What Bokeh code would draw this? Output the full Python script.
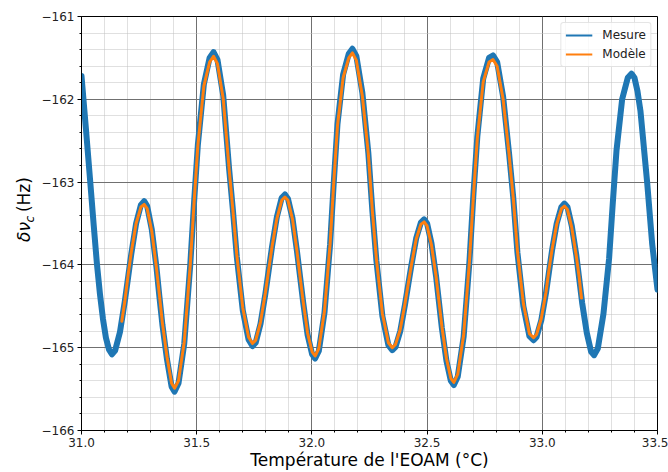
from bokeh.plotting import figure
from bokeh.layouts import row
from bokeh.models import (Range1d, SingleIntervalTicker, CustomJSTickFormatter,
                          Legend, LegendItem)
from bokeh.core.properties import value
from bokeh.embed import file_html
from bokeh.resources import INLINE

# ---- data ----
mesure_t = [31.000, 31.019, 31.038, 31.053, 31.067, 31.080, 31.093, 31.106, 31.119, 31.132,
            31.146, 31.167, 31.188, 31.202, 31.216, 31.237, 31.258, 31.272,
            31.285, 31.305, 31.325, 31.338, 31.351, 31.371, 31.391, 31.404,
            31.421, 31.446, 31.472, 31.4885, 31.505, 31.531, 31.556, 31.573,
            31.590, 31.615, 31.641, 31.6575, 31.674, 31.700, 31.725, 31.742,
            31.756, 31.777, 31.798, 31.8125, 31.827, 31.848, 31.869, 31.883,
            31.896, 31.916, 31.935, 31.9485, 31.962, 31.981, 32.001, 32.014,
            32.030, 32.0545, 32.079, 32.095, 32.111, 32.1355, 32.160, 32.176,
            32.193, 32.219, 32.245, 32.2625, 32.280, 32.306, 32.332, 32.349,
            32.363, 32.3835, 32.404, 32.418, 32.432, 32.4525, 32.473, 32.487,
            32.500, 32.519, 32.539, 32.5515, 32.564, 32.584, 32.603, 32.616,
            32.633, 32.6585, 32.684, 32.701, 32.718, 32.7435, 32.769, 32.786,
            32.804, 32.830, 32.856, 32.874, 32.892, 32.918, 32.944, 32.962,
            32.975, 32.9955, 33.016, 33.029, 33.042, 33.0625, 33.083, 33.096,
            33.109, 33.128, 33.148, 33.1605, 33.173, 33.193, 33.212, 33.225,
            33.241, 33.2655, 33.290, 33.306, 33.322, 33.3465, 33.371, 33.387,
            33.400, 33.413, 33.426, 33.455, 33.477, 33.500]
mesure_f = [-161.72, -162.35, -163.00, -163.52, -163.99, -164.35, -164.65, -164.88, -165.02, -165.08,
            -165.035, -164.81, -164.44, -164.155, -163.87, -163.50, -163.275, -163.23,
            -163.29, -163.57, -164.02, -164.38, -164.72, -165.14, -165.47, -165.53,
            -165.43, -164.95, -164.00, -163.25, -162.55, -161.82, -161.50, -161.43,
            -161.52, -161.95, -162.85, -163.35, -163.90, -164.55, -164.90, -164.98,
            -164.94, -164.71, -164.35, -164.065, -163.78, -163.42, -163.19, -163.15,
            -163.20, -163.44, -163.83, -164.14, -164.45, -164.84, -165.08, -165.13,
            -165.04, -164.58, -163.75, -163.00, -162.30, -161.70, -161.45, -161.39,
            -161.48, -161.92, -162.65, -163.35, -163.95, -164.62, -164.97, -165.03,
            -164.99, -164.80, -164.48, -164.24, -164.00, -163.68, -163.49, -163.45,
            -163.50, -163.74, -164.14, -164.45, -164.76, -165.16, -165.40, -165.45,
            -165.35, -164.87, -163.95, -163.15, -162.45, -161.75, -161.50, -161.47,
            -161.55, -161.97, -162.66, -163.19, -163.85, -164.50, -164.86, -164.91,
            -164.87, -164.67, -164.34, -164.085, -163.83, -163.50, -163.30, -163.26,
            -163.30, -163.53, -163.89, -164.175, -164.46, -164.82, -165.05, -165.09,
            -165.01, -164.59, -163.92, -163.25, -162.62, -162.00, -161.74, -161.69,
            -161.74, -161.90, -162.14, -163.00, -163.75, -164.30]

modele_t = [31.175, 31.188, 31.202, 31.216, 31.237, 31.258, 31.272,
            31.285, 31.305, 31.325, 31.338, 31.351, 31.371, 31.391, 31.404,
            31.421, 31.446, 31.472, 31.4885, 31.505, 31.531, 31.556, 31.573,
            31.590, 31.615, 31.641, 31.6575, 31.674, 31.700, 31.725, 31.742,
            31.756, 31.777, 31.798, 31.8125, 31.827, 31.848, 31.869, 31.883,
            31.896, 31.916, 31.935, 31.9485, 31.962, 31.981, 32.001, 32.014,
            32.030, 32.0545, 32.079, 32.095, 32.111, 32.1355, 32.160, 32.176,
            32.193, 32.219, 32.245, 32.2625, 32.280, 32.306, 32.332, 32.349,
            32.363, 32.3835, 32.404, 32.418, 32.432, 32.4525, 32.473, 32.487,
            32.500, 32.519, 32.539, 32.5515, 32.564, 32.584, 32.603, 32.616,
            32.633, 32.6585, 32.684, 32.701, 32.718, 32.7435, 32.769, 32.786,
            32.804, 32.830, 32.856, 32.874, 32.892, 32.918, 32.944, 32.962,
            32.975, 32.9955, 33.016, 33.029, 33.042, 33.0625, 33.083, 33.096,
            33.109, 33.128, 33.148, 33.160, 33.170]
modele_f = [-164.68, -164.44, -164.13, -163.85, -163.50, -163.30, -163.27,
            -163.32, -163.59, -164.03, -164.36, -164.70, -165.11, -165.43, -165.49,
            -165.40, -164.93, -164.00, -163.25, -162.56, -161.84, -161.55, -161.48,
            -161.57, -161.99, -162.85, -163.35, -163.88, -164.52, -164.87, -164.95,
            -164.91, -164.69, -164.34, -164.06, -163.78, -163.44, -163.22, -163.18,
            -163.22, -163.45, -163.83, -164.14, -164.44, -164.82, -165.05, -165.10,
            -165.01, -164.56, -163.75, -163.00, -162.32, -161.74, -161.50, -161.44,
            -161.53, -161.96, -162.66, -163.35, -163.93, -164.59, -164.94, -165.00,
            -164.96, -164.78, -164.47, -164.23, -164.00, -163.69, -163.51, -163.48,
            -163.53, -163.76, -164.14, -164.44, -164.74, -165.13, -165.37, -165.42,
            -165.32, -164.85, -163.95, -163.17, -162.47, -161.79, -161.55, -161.52,
            -161.60, -162.00, -162.67, -163.19, -163.83, -164.47, -164.83, -164.88,
            -164.84, -164.65, -164.33, -164.06, -163.82, -163.51, -163.32, -163.29,
            -163.33, -163.55, -163.90, -164.15, -164.40]

series_labels = ["Mesure", "Modèle"]
x_label = "Température de l'EOAM (°C)"
y_label_parts = ["δν", "c", "(Hz)"]

BLUE = "#1f77b4"
ORANGE = "#ff7f0e"
FONT = "DejaVu Sans"
W, H = 668, 472
LW = 38  # width of the y-title strip

# ---- main plot ----
p = figure(width=W - LW, height=H, output_backend="svg", toolbar_location=None,
           x_range=Range1d(31.0, 33.5), y_range=Range1d(-166.0, -161.0),
           min_border_left=81 - LW, min_border_right=11, min_border_top=16,
           min_border_bottom=42)
p.background_fill_color = "white"
p.border_fill_color = "white"
p.outline_line_color = "black"
p.outline_line_width = 1

p.xaxis.ticker = SingleIntervalTicker(interval=0.5, num_minor_ticks=5)
p.yaxis.ticker = SingleIntervalTicker(interval=1.0, num_minor_ticks=5)
p.xgrid.ticker = p.xaxis.ticker
p.ygrid.ticker = p.yaxis.ticker
p.xaxis.formatter = CustomJSTickFormatter(code="return tick.toFixed(1)")
p.yaxis.formatter = CustomJSTickFormatter(
    code="return (tick < 0 ? '\u2212' : '') + Math.abs(tick).toFixed(0)")

for ax in (p.xaxis, p.yaxis):
    ax.axis_line_color = "black"
    ax.major_tick_line_color = "black"
    ax.minor_tick_line_color = "black"
    ax.major_tick_in = 0
    ax.major_tick_out = 4
    ax.minor_tick_in = 0
    ax.minor_tick_out = 2
    ax.major_label_text_font = FONT
    ax.major_label_text_font_size = "12px"
    ax.major_label_text_color = "#222222"
    ax.major_label_standoff = 3
p.yaxis.axis_label_standoff = 0

p.xaxis.axis_label = x_label
p.xaxis.axis_label_text_font = FONT
p.xaxis.axis_label_text_font_size = "17px"
p.xaxis.axis_label_text_font_style = "normal"
p.xaxis.axis_label_text_color = "black"
p.xaxis.axis_label_standoff = 0

for g in (p.xgrid, p.ygrid):
    g.grid_line_color = "#707070"
    g.grid_line_width = 1
    g.minor_grid_line_color = "#c0c0c0"
    g.minor_grid_line_dash = "1 1"
    g.minor_grid_line_width = 1

p.line(mesure_t, mesure_f, line_color=BLUE, line_width=6,
       line_join="round", line_cap="round")
p.line(modele_t, modele_f, line_color=ORANGE, line_width=3,
       line_join="round", line_cap="round")

# legend proxies (thin lines, no visible data)
nan = float("nan")
r1 = p.line(x=[nan], y=[nan], line_color=BLUE, line_width=2)
r2 = p.line(x=[nan], y=[nan], line_color=ORANGE, line_width=2)
legend = Legend(items=[LegendItem(label=series_labels[0], renderers=[r1]),
                       LegendItem(label=series_labels[1], renderers=[r2])],
                location="top_right", margin=6, padding=4, spacing=3,
                glyph_width=27, glyph_height=16, label_height=16, label_standoff=10,
                label_text_font=FONT, label_text_font_size="12px",
                label_text_color="#222222",
                border_line_color="#cccccc", border_line_width=1,
                background_fill_color="white", background_fill_alpha=0.8)
if "border_radius" in Legend.properties():
    legend.border_radius = 3
p.add_layout(legend)

# ---- y-title strip (pixel coordinates, y up) ----
t = figure(width=LW, height=H, output_backend="svg", toolbar_location=None,
           x_range=Range1d(0, LW), y_range=Range1d(0, H),
           min_border=0, min_border_left=0, min_border_right=0,
           min_border_top=0, min_border_bottom=0)
t.axis.visible = False
t.grid.visible = False
t.outline_line_color = None
t.background_fill_color = "white"
t.border_fill_color = "white"
ang = 1.5707963
t.text(x=[23], y=[H - 257], text=[y_label_parts[0]], angle=ang,
       text_align="left", text_baseline="middle", text_font=value(FONT),
       text_font_style="italic", text_font_size="17px", text_color="black")
t.text(x=[29], y=[H - 235], text=[y_label_parts[1]], angle=ang,
       text_align="left", text_baseline="middle", text_font=value(FONT),
       text_font_style="italic", text_font_size="12px", text_color="black")
t.text(x=[23], y=[H - 223], text=[y_label_parts[2]], angle=ang,
       text_align="left", text_baseline="middle", text_font=value(FONT),
       text_font_size="17px", text_color="black")

layout = row(t, p, spacing=0)
open("out.html", "w").write(file_html(layout, INLINE))
